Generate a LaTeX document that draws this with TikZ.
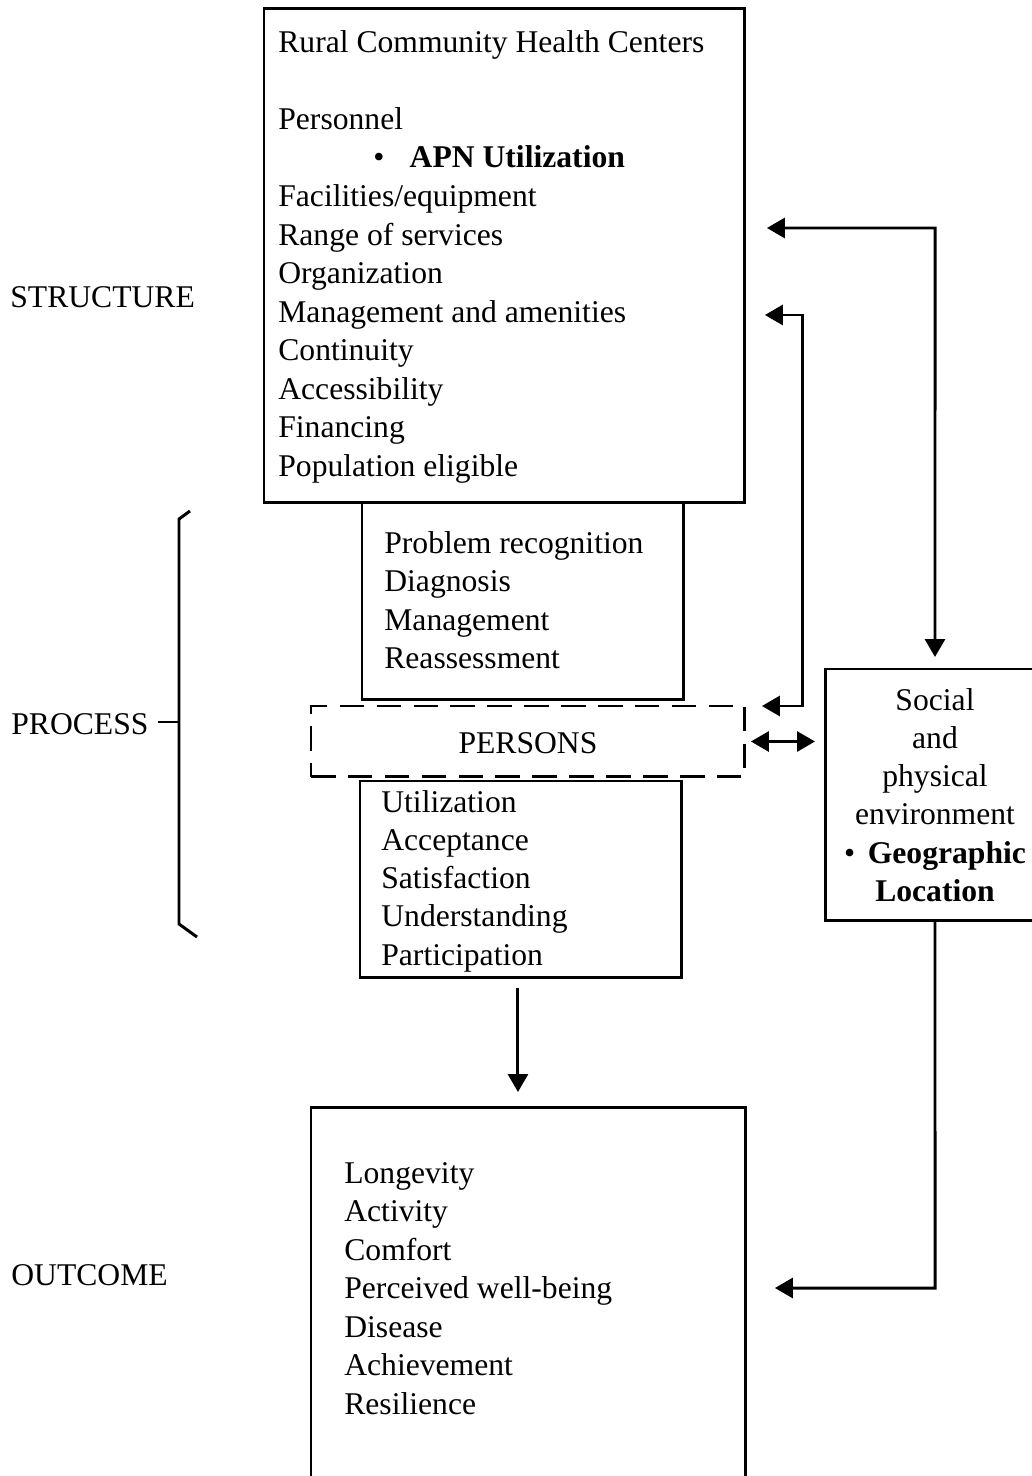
\documentclass[tikz,border=0pt]{standalone}
\usepackage{fontspec}
\setmainfont{Liberation Serif}
\usetikzlibrary{arrows.meta}

\tikzset{
  box/.style={draw, line width=1.7pt, inner sep=0pt, outer sep=0pt, anchor=north west},
  txt/.style={anchor=base west, inner sep=0pt, font=\fontsize{18}{22}\selectfont},
  ctxt/.style={txt, anchor=base},
  tip/.style={line width=1.7pt, -{Triangle[length=0.36cm,width=0.4cm]}},
  twotip/.style={line width=1.7pt, {Triangle[length=0.36cm,width=0.4cm]}-{Triangle[length=0.36cm,width=0.4cm]}}
}

\begin{document}
\begin{tikzpicture}[x=0.02cm, y=-0.02cm]
  \useasboundingbox (0,0) rectangle (1031,1476);

  \node[box, minimum width=9.62cm, minimum height=9.88cm] (struct) at (264,9) {};
  \node[box, minimum width=6.44cm, minimum height=3.94cm] (proc) at (362,503) {};
  \node[box, dash pattern=on 14pt off 7pt, minimum width=8.68cm, minimum height=1.42cm] (persons) at (311,706) {};
  \node[box, minimum width=6.44cm, minimum height=3.94cm] (pout) at (360,781) {};
  \node[box, minimum width=8.7cm, minimum height=7.8cm] (outcome) at (311,1107) {};
  \node[box, minimum width=4.4cm, minimum height=5.04cm] (social) at (825,669) {};

  \node[txt] (lstruct) at (10,308) {STRUCTURE};
  \node[txt] (lproc) at (11,734) {PROCESS};
  \node[txt] (lout) at (11,1285) {OUTCOME};
  \draw[line width=1.7pt] (190,511) -- (179,519) -- (179,924) -- (197,937);
  \draw[line width=1.7pt] (158,722) -- (179,722);

  \node[txt] (s0) at (278,53) {Rural Community Health Centers};
  \node[txt] (s1) at (278,130) {Personnel};
  \node[txt] (s2) at (373,168) {\textbullet\hspace{0.8em}\textbf{APN Utilization}};
  \foreach \t [count=\i from 0] in {Facilities/equipment, Range of services, Organization,
      Management and amenities, Continuity, Accessibility, Financing, Population eligible}
    \node[txt] (f\i) at (278,207+38.5*\i) {\t};

  \foreach \t [count=\i from 0] in {Problem recognition, Diagnosis, Management, Reassessment}
    \node[txt] (p\i) at (384,553+38.5*\i) {\t};

  \node[ctxt] (pers) at (528,753) {PERSONS};

  \foreach \t [count=\i from 0] in {Utilization, Acceptance, Satisfaction, Understanding, Participation}
    \node[txt] (u\i) at (381,812+38.3*\i) {\t};

  \foreach \t [count=\i from 0] in {Longevity, Activity, Comfort, Perceived well-being, Disease,
      Achievement, Resilience}
    \node[txt] (o\i) at (344,1183+38.5*\i) {\t};

  \foreach \t [count=\i from 0] in {Social, and, physical, environment,
      {\textbullet\hspace{0.4em}\textbf{Geographic}}, \textbf{Location}}
    \node[ctxt] (e\i) at (935,710+38.3*\i) {\t};

  \coordinate (c1) at (935,228);
  \draw[twotip] ([xshift=0.44cm]struct.east |- c1) -- (c1) -- ([yshift=0.24cm]social.north);

  \coordinate (c2) at (802,315);
  \coordinate (c3) at (802,706);
  \draw[twotip] ([xshift=0.4cm]struct.east |- c2) -- (c2) -- (c3) -- ([xshift=0.34cm]persons.north east);

  \draw[twotip, shorten <=0.12cm, shorten >=0.2cm] (persons.east) -- (social.west |- persons.east);

  \draw[tip, shorten <=0.2cm, shorten >=0.3cm] ([xshift=-0.06cm]pout.south) -- ([xshift=-0.06cm]pout.south |- outcome.north);

  \coordinate (c5) at (935,1288);
  \draw[tip] (social.south) -- (c5) -- ([xshift=0.58cm]outcome.east |- c5);
\end{tikzpicture}
\end{document}
